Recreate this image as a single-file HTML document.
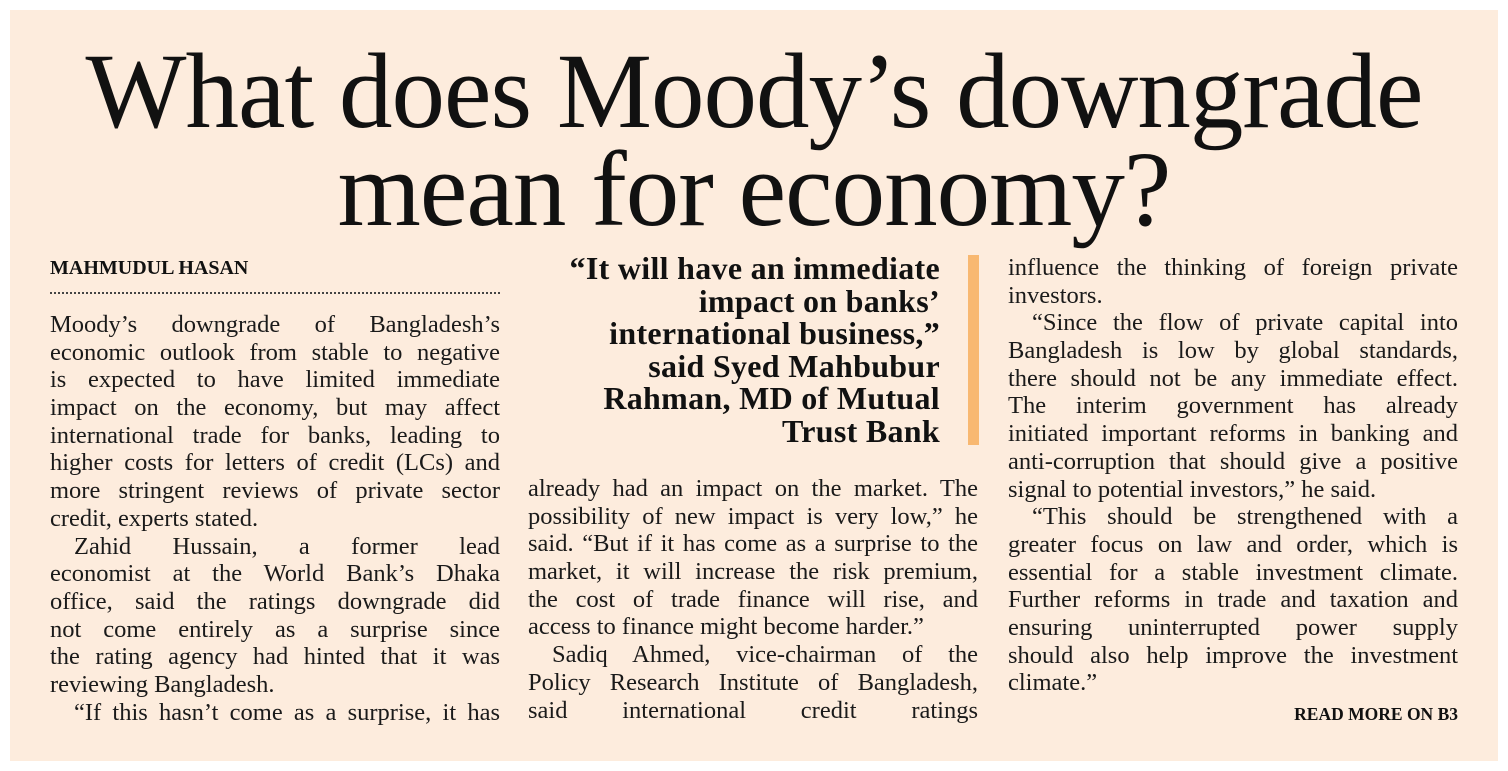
<!DOCTYPE html>
<html><head><meta charset="utf-8"><style>
html,body{margin:0;padding:0;background:#fff;}
#page{position:relative;width:1508px;height:771px;overflow:hidden;background:#fff;}
#panel{position:absolute;left:10px;top:10px;width:1488px;height:751px;background:#fdecdd;}
.h{position:absolute;left:0;width:1508px;text-align:center;font-family:"Liberation Serif",serif;font-size:107px;line-height:100px;color:#111;letter-spacing:-1px;}
.col{position:absolute;width:450px;font-family:"Liberation Serif",serif;font-size:24.5px;color:#1a1a1a;}
.col div{height:27.7px;line-height:27.7px;white-space:nowrap;}
.j{text-align:justify;text-align-last:justify;}
.i{text-indent:24px;}
.q{position:absolute;left:480px;width:460px;text-align:right;font-family:"Liberation Serif",serif;font-weight:bold;font-size:32px;line-height:32.5px;color:#111;letter-spacing:0.3px;}
</style></head><body>
<div id="page">
<div id="panel"></div>
<div class="h" style="top:42px">What does Moody’s downgrade</div>
<div class="h" style="top:140px">mean for economy?</div>
<div style="position:absolute;left:50px;top:257px;font-family:'Liberation Serif',serif;font-weight:bold;font-size:20px;color:#111;letter-spacing:0px">MAHMUDUL HASAN</div>
<div style="position:absolute;left:50px;top:292px;width:450px;border-top:2px dotted #444"></div>

<div class="col" style="left:50px;top:311px">
<div class="j">Moody’s downgrade of Bangladesh’s</div>
<div class="j">economic outlook from stable to negative</div>
<div class="j">is expected to have limited immediate</div>
<div class="j">impact on the economy, but may affect</div>
<div class="j">international trade for banks, leading to</div>
<div class="j">higher costs for letters of credit (LCs) and</div>
<div class="j">more stringent reviews of private sector</div>
<div>credit, experts stated.</div>
<div class="j i">Zahid Hussain, a former lead</div>
<div class="j">economist at the World Bank’s Dhaka</div>
<div class="j">office, said the ratings downgrade did</div>
<div class="j">not come entirely as a surprise since</div>
<div class="j">the rating agency had hinted that it was</div>
<div>reviewing Bangladesh.</div>
<div class="j i">“If this hasn’t come as a surprise, it has</div>
</div>

<div class="q" style="top:252px">“It will have an immediate<br>impact on banks’<br>international business,”<br>said Syed Mahbubur<br>Rahman, MD of Mutual<br>Trust Bank</div>
<div style="position:absolute;left:968px;top:255px;width:11px;height:190px;background:#f8b871"></div>

<div class="col" style="left:528px;top:475px">
<div class="j">already had an impact on the market. The</div>
<div class="j">possibility of new impact is very low,” he</div>
<div class="j">said. “But if it has come as a surprise to the</div>
<div class="j">market, it will increase the risk premium,</div>
<div class="j">the cost of trade finance will rise, and</div>
<div>access to finance might become harder.”</div>
<div class="j i">Sadiq Ahmed, vice-chairman of the</div>
<div class="j">Policy Research Institute of Bangladesh,</div>
<div class="j">said international credit ratings</div>
</div>

<div class="col" style="left:1008px;top:254px">
<div class="j">influence the thinking of foreign private</div>
<div>investors.</div>
<div class="j i">“Since the flow of private capital into</div>
<div class="j">Bangladesh is low by global standards,</div>
<div class="j">there should not be any immediate effect.</div>
<div class="j">The interim government has already</div>
<div class="j">initiated important reforms in banking and</div>
<div class="j">anti-corruption that should give a positive</div>
<div>signal to potential investors,” he said.</div>
<div class="j i">“This should be strengthened with a</div>
<div class="j">greater focus on law and order, which is</div>
<div class="j">essential for a stable investment climate.</div>
<div class="j">Further reforms in trade and taxation and</div>
<div class="j">ensuring uninterrupted power supply</div>
<div class="j">should also help improve the investment</div>
<div>climate.”</div>
</div>
<div style="position:absolute;right:50px;top:704px;font-family:'Liberation Serif',serif;font-weight:bold;font-size:17.5px;color:#111">READ MORE ON B3</div>
</div>
</body></html>
